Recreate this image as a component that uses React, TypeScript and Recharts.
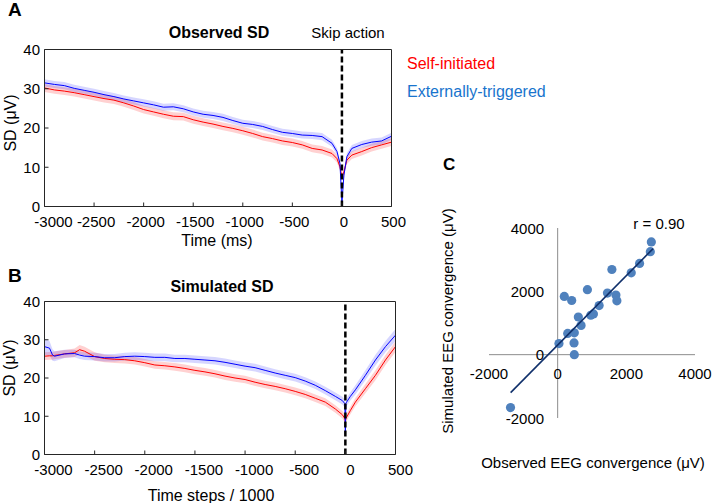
import React from "react";
import {
  ComposedChart,
  Area,
  Line,
  XAxis,
  YAxis,
  ReferenceLine,
  Scatter,
} from "recharts";

const FONT = "'Liberation Sans', Arial, Helvetica, sans-serif";

// ---------- Panel A: Observed SD ----------
const timeA = [
  -3000, -2900, -2800, -2700, -2600, -2500, -2400, -2300, -2200, -2100,
  -2000, -1900, -1800, -1700, -1600, -1500, -1400, -1300, -1200, -1100,
  -1000, -900, -800, -700, -600, -500, -400, -300, -200, -100,
  -50, -20, 0, 20, 50, 100, 200, 300, 400, 500,
];
const blueA = [
  31.5, 31.1, 30.8, 30.1, 29.6, 29.1, 28.5, 28.0, 27.4, 26.9,
  26.4, 25.9, 25.3, 25.4, 24.9, 24.1, 23.5, 23.2, 22.7, 21.9,
  21.2, 20.9, 20.4, 19.6, 18.9, 18.6, 18.2, 18.1, 17.8, 16.1,
  14.0, 11.0, 1.0, 8.0, 12.7, 14.8, 15.8, 16.4, 16.7, 17.9,
];
const redA = [
  30.2, 29.7, 29.4, 29.0, 28.5, 28.0, 27.5, 27.1, 26.4, 25.6,
  24.7, 24.1, 23.5, 23.0, 22.9, 22.1, 21.5, 21.0, 20.4, 19.9,
  19.3, 18.6, 17.8, 17.3, 16.7, 16.3, 15.7, 14.8, 14.4, 13.5,
  12.2, 10.1, 7.5, 8.8, 11.8, 13.1, 14.0, 15.0, 15.7, 16.4,
];
const blueSemA = 0.9;
const redSemA = 1.0;

// ---------- Panel B: Simulated SD ----------
const timeB = [
  -3000, -2950, -2920, -2900, -2800, -2700, -2650, -2600, -2500, -2400,
  -2300, -2200, -2100, -2000, -1900, -1800, -1700, -1600, -1500, -1400,
  -1300, -1200, -1100, -1000, -900, -800, -700, -600, -500, -400,
  -300, -200, -100, -30, -5, 0, 5, 50, 100, 200, 300, 400, 500,
];
const blueB = [
  28.2, 27.8, 26.0, 25.7, 26.3, 26.4, 26.0, 25.7, 25.6, 25.3,
  25.3, 25.6, 25.7, 25.6, 25.4, 25.4, 25.1, 25.1, 24.9, 24.7,
  24.5, 24.1, 23.6, 23.1, 22.7, 22.0, 21.3, 20.7, 20.1, 19.2,
  18.1, 16.7, 15.2, 14.1, 13.3, 5.3, 13.4, 15.2, 16.9, 20.7, 24.7, 28.2, 31.2,
];
const redB = [
  25.7, 25.8, 25.8, 25.9, 26.3, 26.6, 27.4, 27.0, 25.6, 25.1,
  24.9, 24.8, 24.5, 24.0, 23.4, 23.2, 22.9, 22.5, 22.0, 21.6,
  21.1, 20.5, 20.0, 19.6, 18.9, 18.3, 17.8, 17.2, 16.5, 15.7,
  14.7, 13.7, 11.9, 10.4, 9.4, 8.6, 9.4, 11.5, 13.7, 17.2, 20.7, 24.7, 28.2,
];
const blueSemB = [
  2.1, 1.9, 1.5, 1.3, 1.1, 1.0, 1.0, 1.0, 1.0, 1.0,
  1.0, 1.0, 1.0, 1.0, 1.0, 1.0, 1.0, 1.0, 1.0, 1.0,
  1.0, 1.0, 1.0, 1.0, 1.0, 1.0, 1.0, 1.0, 1.0, 1.0,
  1.0, 1.0, 1.0, 1.0, 1.0, 1.0, 1.0, 1.1, 1.2, 1.3, 1.4, 1.5, 1.6,
];
const redSemB = [
  1.0, 1.0, 1.0, 1.0, 1.0, 1.1, 1.2, 1.2, 1.1, 1.0,
  1.0, 1.0, 1.0, 1.0, 1.0, 1.0, 1.0, 1.0, 1.0, 1.0,
  1.0, 1.0, 1.0, 1.0, 1.0, 1.0, 1.0, 1.0, 1.0, 1.0,
  1.0, 1.0, 1.0, 1.0, 1.0, 1.0, 1.0, 1.0, 1.1, 1.2, 1.3, 1.3, 1.4,
];

const timeTicks = [-3000, -2500, -2000, -1500, -1000, -500, 0, 500];
const sdTicks = [0, 10, 20, 30, 40];

// ---------- Panel C: scatter ----------
const observedConv = [
  2728, 2699, 2386, 2143, 1579, 1450, 1696, 1725, 866, 193, 409,
  1208, 1041, 965, 602, 681, 292, 485, 477, 38, 485, -1374,
];
const simulatedConv = [
  3560, 3253, 2880, 2583, 2689, 1946, 1882, 1700, 2051, 1838, 1710,
  1550, 1286, 1244, 1190, 925, 670, 689, 370, 351, 0, -1671,
];
const fitX = [-1370, 2780];
const fitY = [-1200, 3350];
const convTicks = [-2000, 0, 2000, 4000];

const dataA = timeA.map((t, i) => ({
  t,
  blue: blueA[i],
  red: redA[i],
  blueBand: [blueA[i] - blueSemA, blueA[i] + blueSemA],
  redBand: [redA[i] - redSemA, redA[i] + redSemA],
}));
const dataB = timeB.map((t, i) => ({
  t,
  blue: blueB[i],
  red: redB[i],
  blueBand: [blueB[i] - blueSemB[i], blueB[i] + blueSemB[i]],
  redBand: [redB[i] - redSemB[i], redB[i] + redSemB[i]],
}));
const scatterData = observedConv.map((x, i) => ({ x, y: simulatedConv[i] }));
const fitData = fitX.map((x, i) => ({ x, y: fitY[i] }));

const BLUE = "#0000ff";
const RED = "#ff0000";
const FRAME = "#262626";

// label nudges (px) reproducing the reference's label placement
const shiftA = (v: number) => (v === timeTicks[0] ? 9 : 2);
const shiftB = (v: number) => (v === timeTicks[0] ? 9 : v < 0 ? 9 : 5);

function makeTimeTick(shift: (v: number) => number) {
  return (props: any) => {
    const { x, y, payload } = props;
    return (
      <text
        x={x + shift(payload.value)}
        y={y}
        dy="0.71em"
        textAnchor="middle"
        fontSize={15}
        fill="#000"
        fontFamily={FONT}
      >
        {payload.value}
      </text>
    );
  };
}
const TimeTickA = makeTimeTick(shiftA);
const TimeTickB = makeTimeTick(shiftB);

function SDPanel({
  data,
  margin,
  height,
  TickComp,
}: {
  data: any[];
  margin: any;
  height: number;
  TickComp: any;
}) {
  const tickStyle = { fontSize: 15, fill: "#000", fontFamily: FONT };
  return (
    <ComposedChart width={420} height={height} data={data} margin={margin}>
      <XAxis
        xAxisId="b"
        dataKey="t"
        type="number"
        domain={[-3000, 500]}
        ticks={timeTicks}
        interval={0}
        allowDataOverflow
        tickSize={-4}
        tickMargin={13.5}
        height={30}
        stroke={FRAME}
        tick={<TickComp />}
      />
      <XAxis
        xAxisId="t"
        orientation="top"
        dataKey="t"
        type="number"
        domain={[-3000, 500]}
        ticks={timeTicks}
        interval={0}
        allowDataOverflow
        tick={false}
        tickSize={-4}
        height={1}
        stroke={FRAME}
      />
      <YAxis
        yAxisId="l"
        type="number"
        domain={[0, 40]}
        ticks={sdTicks}
        interval={0}
        allowDataOverflow
        tickSize={-4}
        tickMargin={8.5}
        width={40}
        stroke={FRAME}
        tick={tickStyle}
      />
      <YAxis
        yAxisId="r"
        orientation="right"
        type="number"
        domain={[0, 40]}
        ticks={sdTicks}
        interval={0}
        tick={false}
        tickSize={-4}
        width={1}
        stroke={FRAME}
      />
      <Area
        xAxisId="b"
        yAxisId="l"
        type="linear"
        dataKey="redBand"
        stroke="none"
        fill={RED}
        fillOpacity={0.18}
        isAnimationActive={false}
      />
      <Area
        xAxisId="b"
        yAxisId="l"
        type="linear"
        dataKey="blueBand"
        stroke="none"
        fill={BLUE}
        fillOpacity={0.16}
        isAnimationActive={false}
      />
      <Line
        xAxisId="b"
        yAxisId="l"
        type="linear"
        dataKey="red"
        stroke={RED}
        strokeWidth={1}
        dot={false}
        isAnimationActive={false}
      />
      <Line
        xAxisId="b"
        yAxisId="l"
        type="linear"
        dataKey="blue"
        stroke={BLUE}
        strokeWidth={1}
        dot={false}
        isAnimationActive={false}
      />
      <ReferenceLine
        xAxisId="b"
        yAxisId="l"
        x={0}
        stroke="#000"
        strokeWidth={2.5}
        strokeDasharray="6 3"
      />
    </ComposedChart>
  );
}

// Panel C plot geometry (Excel-style axes crossing at zero)
const C_W = 206;
const C_H = 190;
const C_DOMAIN = [-2000, 4000];
const C_ZERO_FROM_BOTTOM = (C_H * (0 - C_DOMAIN[0])) / (C_DOMAIN[1] - C_DOMAIN[0]);
const C_ZERO_FROM_LEFT = (C_W * (0 - C_DOMAIN[0])) / (C_DOMAIN[1] - C_DOMAIN[0]);

const CXTick = (props: any) => {
  const { x, y, payload } = props;
  return (
    <text
      x={x}
      y={y - C_ZERO_FROM_BOTTOM + 18.5}
      textAnchor="middle"
      dominantBaseline="central"
      fontSize={15}
      fill="#000"
      fontFamily={FONT}
    >
      {payload.value}
    </text>
  );
};
const CYTick = (props: any) => {
  const { x, y, payload } = props;
  return (
    <text
      x={x + C_ZERO_FROM_LEFT - 13.5}
      y={y}
      textAnchor="end"
      dominantBaseline="central"
      fontSize={15}
      fill="#000"
      fontFamily={FONT}
    >
      {payload.value}
    </text>
  );
};

function ScatterPanel() {
  return (
    <ComposedChart
      width={315}
      height={303}
      margin={{ top: 28, right: 20, bottom: 55, left: 49 }}
    >
      <XAxis
        dataKey="x"
        type="number"
        domain={C_DOMAIN}
        ticks={convTicks}
        interval={0}
        axisLine={false}
        tickLine={false}
        tickSize={0}
        tickMargin={0}
        height={30}
        tick={<CXTick />}
      />
      <YAxis
        dataKey="y"
        type="number"
        domain={C_DOMAIN}
        ticks={convTicks}
        interval={0}
        axisLine={false}
        tickLine={false}
        tickSize={0}
        tickMargin={0}
        width={40}
        tick={<CYTick />}
      />
      <ReferenceLine y={0} stroke="#8c8c8c" strokeWidth={1} />
      <ReferenceLine x={0} stroke="#8c8c8c" strokeWidth={1} />
      <Scatter
        data={scatterData}
        isAnimationActive={false}
        shape={(p: any) => <circle cx={p.cx} cy={p.cy} r={4.6} fill="#4f81bd" />}
      />
      <Scatter
        data={fitData}
        isAnimationActive={false}
        line={{ stroke: "#10306b", strokeWidth: 1.6 }}
        shape={() => <g />}
      />
    </ComposedChart>
  );
}

export default function App() {
  const t = { fontFamily: FONT, fill: "#000" } as const;
  return (
    <div
      style={{
        position: "absolute",
        left: 0,
        top: 0,
        width: 715,
        height: 503,
        background: "#fff",
        overflow: "hidden",
      }}
    >
      <div style={{ position: "absolute", left: 0, top: 0 }}>
        <SDPanel
          data={dataA}
          height={250}
          TickComp={TimeTickA}
          margin={{ top: 48.5, right: 27.5, bottom: 13.5, left: 4.5 }}
        />
      </div>
      <div style={{ position: "absolute", left: 0, top: 250 }}>
        <SDPanel
          data={dataB}
          height={253}
          TickComp={TimeTickB}
          margin={{ top: 50.5, right: 23.5, bottom: 18.5, left: 4.5 }}
        />
      </div>
      <div style={{ position: "absolute", left: 400, top: 200 }}>
        <ScatterPanel />
      </div>
      <svg
        width={715}
        height={503}
        style={{ position: "absolute", left: 0, top: 0, pointerEvents: "none" }}
      >
        <text x={8} y={9} fontSize={19} fontWeight="bold" dominantBaseline="central" {...t}>A</text>
        <text x={219} y={32} fontSize={16} fontWeight="bold" textAnchor="middle" dominantBaseline="central" {...t}>Observed SD</text>
        <text x={348} y={32} fontSize={15} textAnchor="middle" dominantBaseline="central" {...t}>Skip action</text>
        <text x={407} y={63} fontSize={16} dominantBaseline="central" fontFamily={FONT} fill="#ff0000">Self-initiated</text>
        <text x={407} y={91.5} fontSize={16} dominantBaseline="central" fontFamily={FONT} fill="#1874cd">Externally-triggered</text>
        <text x={217} y={240} fontSize={16} textAnchor="middle" dominantBaseline="central" {...t}>Time (ms)</text>
        <text x={10} y={123} fontSize={16} textAnchor="middle" dominantBaseline="central" transform="rotate(-90 10 123)" {...t}>SD (μV)</text>
        <text x={8} y={275} fontSize={19} fontWeight="bold" dominantBaseline="central" {...t}>B</text>
        <text x={222} y={286} fontSize={16} fontWeight="bold" textAnchor="middle" dominantBaseline="central" {...t}>Simulated SD</text>
        <text x={9} y={368} fontSize={16} textAnchor="middle" dominantBaseline="central" transform="rotate(-90 9 368)" {...t}>SD (μV)</text>
        <text x={211} y={495} fontSize={16} textAnchor="middle" dominantBaseline="central" {...t}>Time steps / 1000</text>
        <text x={443} y={164} fontSize={17} fontWeight="bold" dominantBaseline="central" {...t}>C</text>
        <text x={659} y={223} fontSize={15} textAnchor="middle" dominantBaseline="central" {...t}>r = 0.90</text>
        <text x={447} y={321} fontSize={15} textAnchor="middle" dominantBaseline="central" transform="rotate(-90 447 321)" {...t}>Simulated EEG convergence (μV)</text>
        <text x={593} y={462} fontSize={15} textAnchor="middle" dominantBaseline="central" {...t}>Observed EEG convergence (μV)</text>
      </svg>
    </div>
  );
}
